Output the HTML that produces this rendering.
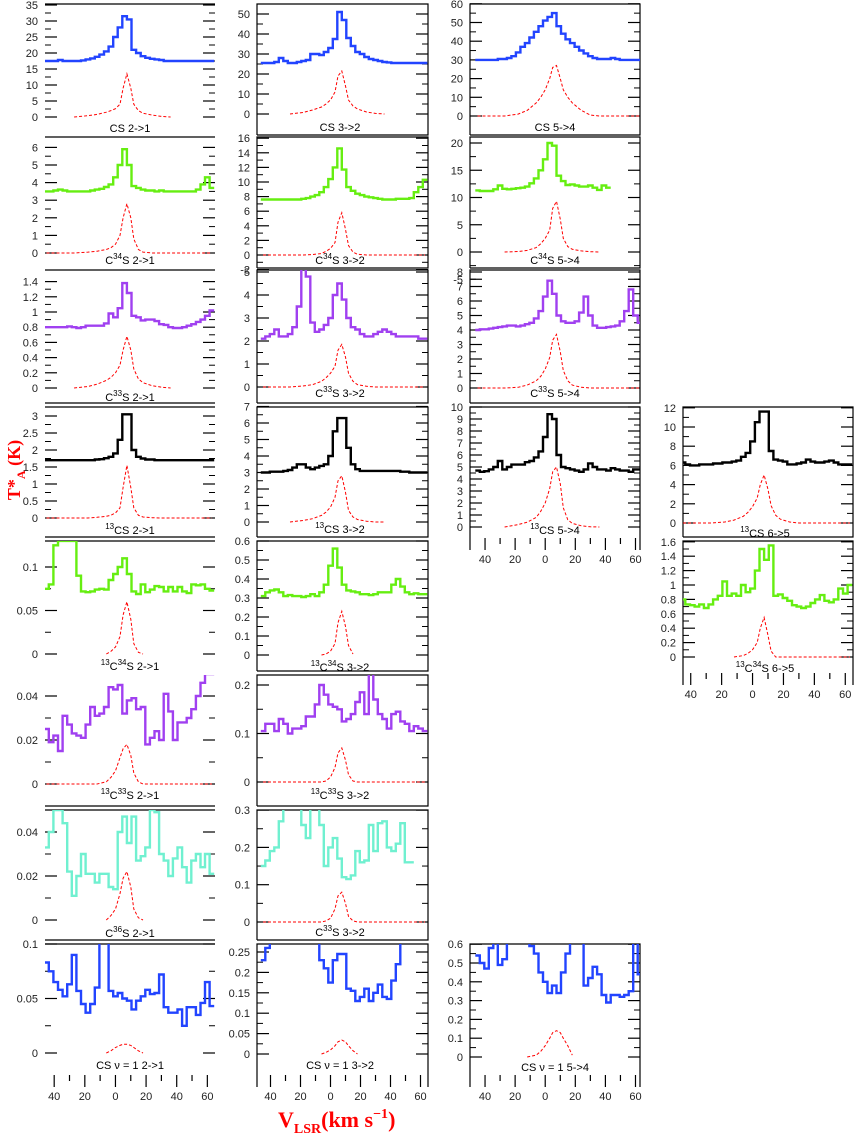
<!DOCTYPE html>
<html><head><meta charset="utf-8"><style>
html,body{margin:0;padding:0;background:#fff;}
svg{display:block;font-family:"Liberation Sans",sans-serif;}
</style></head><body>
<svg id="fig" width="854" height="1137" viewBox="0 0 854 1137" xmlns="http://www.w3.org/2000/svg">
<defs id="defs"></defs>
<g id="panels"></g>
<text transform="translate(20,470) rotate(-90)" text-anchor="middle" fill="#ff0000" font-family="Liberation Serif,serif" font-weight="bold" font-size="18">T*<tspan font-size="12" dy="5">A</tspan><tspan dy="-5"> (K)</tspan></text>
<text x="278" y="1127" fill="#ff0000" font-family="Liberation Serif,serif" font-weight="bold" font-size="22">V<tspan font-size="14" dy="6">LSR</tspan><tspan dy="-6">(km  s</tspan><tspan font-size="14" dy="-9">−1</tspan><tspan dy="9">)</tspan></text>
</svg>
<script>
const V = [-45,-42,-39,-36,-33,-30,-27,-24,-21,-18,-15,-12,-9,-6,-3,0,3,6,9,12,15,18,21,24,27,30,33,36,39,42,45,48,51,54,57,60,63];
const MV = [-45,-36,-27,-18,-12,-6,-3,0,3,5,7.5,10,12,15,18,24,30,36,45,54,63];
const n = null;
// column 1
const obsCS21 = [17.5,17.5,17.5,17.8,17.5,17.5,17.5,17.5,17.7,18,18.3,18.8,19.5,20.5,22,25,28,31.5,30.5,21,20,19,18.5,18.2,18,17.8,17.5,17.5,17.5,17.5,17.5,17.5,17.5,17.5,17.5,17.5,17.5];
const modCS21 = [n,n,0,0.4,0.8,1.5,2,2.6,4,9,13.5,9,4,2,1.2,0.6,0.2,0,n,n,n];
const obsC34S21 = [3.5,3.5,3.55,3.6,3.55,3.5,3.5,3.5,3.5,3.5,3.55,3.6,3.65,3.75,3.9,4.3,5.0,5.9,5.0,3.8,3.7,3.6,3.55,3.55,3.5,3.55,3.5,3.5,3.5,3.5,3.5,3.5,3.5,3.6,3.9,4.3,3.7];
const modC34S21 = [0,0,0,0.05,0.1,0.2,0.3,0.5,1.0,2.0,2.8,2.0,0.8,0.2,0.05,0,0,0,0,0,0];
const obsC33S21 = [0.8,0.8,0.8,0.8,0.8,0.81,0.8,0.79,0.8,0.82,0.82,0.82,0.82,0.85,0.98,0.93,1.05,1.38,1.25,0.95,0.93,0.89,0.9,0.9,0.88,0.84,0.83,0.8,0.79,0.79,0.8,0.82,0.84,0.87,0.9,0.95,1.02];
const modC33S21 = [n,n,0,0.02,0.05,0.1,0.14,0.2,0.3,0.5,0.68,0.5,0.25,0.12,0.07,0.03,0.01,0,n,n,n];
const obs13CS21 = [1.7,1.7,1.7,1.7,1.7,1.7,1.7,1.7,1.7,1.7,1.7,1.72,1.73,1.76,1.8,1.9,2.3,3.05,3.05,2.0,1.8,1.75,1.72,1.72,1.7,1.7,1.7,1.7,1.7,1.7,1.7,1.7,1.7,1.7,1.7,1.7,1.7];
const mod13CS21 = [0,0,0,0,0.02,0.05,0.08,0.15,0.3,0.9,1.55,0.9,0.3,0.08,0.03,0.01,0,0,0,0,0];
const obs13C34S21 = [0.075,0.08,0.125,0.13,0.13,0.13,0.13,0.09,0.072,0.071,0.072,0.074,0.075,0.074,0.085,0.092,0.1,0.11,0.092,0.072,0.069,0.08,0.071,0.074,0.078,0.077,0.072,0.077,0.072,0.077,0.072,0.07,0.08,0.079,0.08,0.075,0.073];
const mod13C34S21 = [n,n,n,n,n,0,0.003,0.008,0.02,0.045,0.06,0.04,0.012,0.002,0,n,n,n,n,n,n];
const obs13C33S21 = [0.025,0.019,0.022,0.015,0.031,0.027,0.023,0.022,0.021,0.027,0.035,0.031,0.032,0.035,0.044,0.043,0.045,0.032,0.038,0.039,0.034,0.035,0.018,0.021,0.024,0.02,0.041,0.033,0.02,0.028,0.028,0.03,0.034,0.04,0.046,0.05,0.05];
const mod13C33S21 = [0,0,0,0,0,0.001,0.003,0.006,0.012,0.016,0.018,0.013,0.005,0.001,0,0,0,0,0,0,0];
const obsC36S21 = [0.033,0.04,0.05,0.05,0.044,0.022,0.011,0.02,0.03,0.021,0.021,0.017,0.021,0.021,0.015,0.014,0.04,0.047,0.035,0.047,0.027,0.029,0.033,0.05,0.049,0.03,0.027,0.02,0.028,0.033,0.024,0.017,0.027,0.03,0.024,0.03,0.021];
const modC36S21 = [n,n,n,n,n,0,0.002,0.005,0.012,0.019,0.022,0.015,0.005,0.001,0,n,n,n,n,n,n];
const obsCSv21 = [0.083,0.075,0.065,0.058,0.052,0.063,0.09,0.057,0.045,0.037,0.045,0.06,0.11,0.11,0.057,0.052,0.055,0.05,0.048,0.04,0.048,0.052,0.058,0.054,0.055,0.072,0.042,0.037,0.037,0.04,0.025,0.042,0.042,0.035,0.046,0.065,0.043];
const modCSv21 = [n,n,n,n,n,0,0.002,0.005,0.007,0.008,0.008,0.007,0.005,0.002,0,n,n,n,n,n,n];
// column 2
const obsCS32 = [25.5,25.5,25.5,26,28,26.5,25.5,25.5,26,26.5,27,30,30,29.5,31,33,37.5,51,47,38,34,31,30,28.5,27.5,27,26.5,26,25.8,25.5,25.5,25.5,25.5,25.5,25.5,25.5,25.5];
const modCS32 = [n,n,0,0.8,2,3.5,5,7,11,19,21.5,14,7,4,2.5,1,0.3,0,n,n,n];
const obsC34S32 = [7.6,7.6,7.6,7.6,7.6,7.6,7.6,7.6,7.6,7.7,7.8,8,8.2,8.6,9.3,10.4,12,14.6,11.7,9.3,8.8,8.4,8.2,8,7.9,7.8,7.7,7.6,7.6,7.6,7.7,7.7,7.7,7.8,8.6,9.3,10.3];
const modC34S32 = [0,0,0,0,0.05,0.2,0.5,0.9,1.7,4.5,5.8,3.5,1.3,0.4,0.1,0,0,0,0,0,0];
const obsC33S32 = [2.1,2.2,2.3,2.5,2.2,2.2,2.3,2.6,3.5,5.3,4.8,2.8,2.4,2.5,2.7,3.0,4.0,4.5,3.8,3.0,2.6,2.5,2.3,2.2,2.2,2.3,2.4,2.5,2.4,2.3,2.2,2.2,2.2,2.2,2.2,2.1,2.1];
const modC33S32 = [0,0,0,0.05,0.1,0.25,0.4,0.6,0.9,1.6,1.85,1.3,0.6,0.25,0.1,0.03,0,0,0,0,0];
const obs13CS32 = [3.0,3.0,3.05,3.05,3.05,3.1,3.15,3.3,3.5,3.5,3.3,3.2,3.3,3.4,3.5,4.0,5.5,6.3,6.3,4.5,3.5,3.2,3.1,3.1,3.1,3.1,3.1,3.1,3.1,3.1,3.1,3.05,3.05,3.0,3.0,3.0,3.0];
const mod13CS32 = [n,n,0,0.1,0.2,0.4,0.6,0.9,1.5,2.5,2.8,1.8,0.7,0.3,0.15,0.05,0,0,n,n,n];
const obs13C34S32 = [0.31,0.33,0.34,0.345,0.33,0.31,0.315,0.31,0.31,0.305,0.31,0.32,0.31,0.33,0.37,0.47,0.56,0.46,0.37,0.34,0.335,0.33,0.32,0.32,0.315,0.32,0.33,0.33,0.33,0.37,0.4,0.36,0.33,0.32,0.325,0.32,0.32];
const mod13C34S32 = [n,n,n,n,n,0,0.005,0.02,0.06,0.17,0.23,0.15,0.05,0.005,n,n,n,n,n,n,n];
const obs13C33S32 = [0.105,0.12,0.12,0.105,0.13,0.12,0.1,0.11,0.11,0.115,0.135,0.135,0.16,0.2,0.18,0.16,0.155,0.15,0.125,0.13,0.14,0.165,0.185,0.14,0.23,0.17,0.14,0.13,0.11,0.14,0.145,0.125,0.12,0.105,0.115,0.11,0.105];
const mod13C33S32 = [0,0,0,0,0,0,0.002,0.01,0.03,0.06,0.07,0.045,0.015,0.002,0,0,0,0,0,0,0];
const obsC36S32 = [0.15,0.165,0.19,0.2,0.27,0.31,0.31,0.31,0.31,0.26,0.225,0.31,0.31,0.26,0.15,0.2,0.225,0.17,0.12,0.115,0.125,0.19,0.16,0.165,0.26,0.19,0.265,0.27,0.2,0.19,0.21,0.265,0.16,0.16,n,n,n];
const modC36S32 = [0,0,0,0,0,0,0.003,0.01,0.035,0.07,0.08,0.05,0.015,0.003,0,0,0,0,0,0,0];
const obsCSv32 = [0.23,0.26,0.3,0.3,0.3,0.3,0.3,0.3,0.3,0.3,0.3,0.3,0.3,0.23,0.21,0.175,0.23,0.245,0.245,0.16,0.155,0.13,0.14,0.16,0.13,0.15,0.17,0.14,0.135,0.18,0.22,0.3,0.3,0.3,0.3,0.3,0.3];
const modCSv32 = [n,n,n,n,n,0,0.004,0.01,0.02,0.03,0.034,0.03,0.02,0.008,0,n,n,n,n,n,n];
// column 3
const obsCS54 = [30,30,30,30,30,30.5,30.5,31,32,34,37,39,42,45,48,51,53,55,48,44,41,39,37,35,33.5,32,31,30.5,30.5,30.5,31,30.5,30,30,30,30,30];
const modCS54 = [0,0,0,1,3,7,10,14,20,26,27,20,14,10,7,3,0.5,0,0,0,0];
const obsC34S54 = [11.3,11.2,11.2,11.2,11.5,12.2,11.6,11.5,11.6,11.7,11.8,12,12.6,13.5,15,17,20,19.5,14,13,12.3,12.4,12.2,12,12,12.2,11.8,11.4,12.2,11.8,n,n,n,n,n,n,n];
const modC34S54 = [n,n,0,0.1,0.3,0.8,1.5,2.5,4,8,9.3,6,2.5,1,0.5,0.2,0.05,0,n,n,n];
const obsC33S54 = [4.0,4.05,4.05,4.1,4.15,4.2,4.25,4.3,4.3,4.25,4.3,4.4,4.5,4.8,5.3,6.3,7.4,6.5,5.0,4.6,4.5,4.5,4.6,5.2,6.3,5.0,4.3,4.15,4.15,4.2,4.25,4.3,4.6,5.3,6.8,5.0,4.5];
const modC33S54 = [0,0,0,0.05,0.2,0.5,0.8,1.3,2.1,3.3,3.7,2.5,1.2,0.5,0.2,0.05,0,0,0,0,0];
const obs13CS54 = [4.7,4.6,4.65,4.8,5.0,5.5,4.8,5.0,5.2,5.2,5.2,5.4,5.5,5.8,6.3,7.5,9.4,9.0,6.0,5.0,4.9,4.8,4.7,4.6,4.8,5.3,5.0,4.8,4.8,4.7,4.9,4.8,4.7,4.7,4.6,4.8,4.8];
const mod13CS54 = [n,n,0,0.2,0.4,0.8,1.3,2,3.2,4.6,5,3.6,1.6,0.6,0.3,0.1,0.02,0,n,n,n];
const obsCSv54 = [0.54,0.5,0.47,0.58,0.62,0.49,0.52,0.62,0.62,0.62,0.62,0.62,0.59,0.55,0.45,0.4,0.34,0.38,0.34,0.45,0.55,0.62,0.62,0.62,0.38,0.42,0.48,0.44,0.33,0.29,0.33,0.33,0.32,0.33,0.35,0.62,0.44];
const modCSv54 = [n,n,n,n,0,0.01,0.03,0.06,0.1,0.13,0.14,0.13,0.1,0.06,0.01,n,n,n,n,n,n];
// column 4
const obs13CS65 = [6.3,6.1,6.0,6.0,6.1,6.1,6.1,6.2,6.2,6.3,6.3,6.4,6.5,6.9,7.3,8.5,10.5,11.6,11.6,7.5,6.6,6.5,6.4,6.1,6.1,6.2,6.3,6.6,6.4,6.3,6.3,6.4,6.5,6.3,6.1,6.1,6.1];
const mod13CS65 = [0,0,0,0.1,0.3,0.7,1.1,1.7,2.6,4,5,3.5,1.8,0.8,0.4,0.1,0,0,0,0,0];
const obs13C34S65 = [0.8,0.73,0.72,0.7,0.73,0.68,0.73,0.8,0.85,1.05,0.85,0.88,0.85,1.0,0.9,0.95,1.2,1.5,1.35,1.55,0.85,0.87,0.82,0.78,0.72,0.7,0.68,0.7,0.75,0.8,0.86,0.78,0.76,0.8,0.95,0.88,1.0];
const mod13C34S65 = [n,n,n,n,0,0.02,0.05,0.1,0.2,0.4,0.55,0.3,0.08,0,0,0,0,0,0,0,0];

const cols = {
  1:{x0:45,x1:215,vmin:-46,vmax:65,lx:38,cx:130},
  2:{x0:257,x1:428,vmin:-49,vmax:65,lx:250,cx:340},
  3:{x0:470,x1:640,vmin:-50,vmax:63,lx:463,cx:555},
  4:{x0:683,x1:853,vmin:-45,vmax:65,lx:676,cx:765}
};
const BLUE='#2244ff',GREEN='#66ee11',PURPLE='#a040f0',BLACK='#000',CYAN='#70f0d0';
function iso(a,b){return '<tspan font-size="8" dy="-5">'+a+'</tspan><tspan dy="5">'+b+'</tspan>';}
function sup(a){return '<tspan font-size="8" dy="-5">'+a+'</tspan><tspan dy="5">';}
const L = {
 cs:(t)=>'CS '+t,
 c34:(t)=>'C'+sup('34')+'S '+t+'</tspan>',
 c33:(t)=>'C'+sup('33')+'S '+t+'</tspan>',
 c36:(t)=>'C'+sup('36')+'S '+t+'</tspan>',
 c13:(t)=>sup('13')+'CS '+t+'</tspan>',
 c1334:(t)=>sup('13')+'C'+'</tspan>'+sup('34')+'S '+t+'</tspan>',
 c1333:(t)=>sup('13')+'C'+'</tspan>'+sup('33')+'S '+t+'</tspan>',
 v1:(t)=>'CS  ν = 1 '+t
};
const panels = [
 {name:'cs-2-1',col:1,top:4,bot:135,z:117,s:3.2,ticks:[0,5,10,15,20,25,30,35],c:BLUE,o:obsCS21,m:modCS21,lab:L.cs('2->1'),ly:132},
 {name:'c34s-2-1',col:1,top:137,bot:268,z:253,s:17.6,ticks:[0,1,2,3,4,5,6],c:GREEN,o:obsC34S21,m:modC34S21,lab:L.c34('2->1'),ly:264},
 {name:'c33s-2-1',col:1,top:270,bot:403,z:388,s:76,ticks:[0,0.2,0.4,0.6,0.8,1,1.2,1.4],c:PURPLE,o:obsC33S21,m:modC33S21,lab:L.c33('2->1'),ly:401},
 {name:'13cs-2-1',col:1,top:407,bot:537,z:518,s:34,ticks:[0,0.5,1,1.5,2,2.5,3],c:BLACK,o:obs13CS21,m:mod13CS21,lab:L.c13('2->1'),ly:534},
 {name:'13c34s-2-1',col:1,top:541,bot:672,z:654,s:870,ticks:[0,0.05,0.1],c:GREEN,o:obs13C34S21,m:mod13C34S21,lab:L.c1334('2->1'),ly:670},
 {name:'13c33s-2-1',col:1,top:675,bot:806,z:784,s:2200,ticks:[0,0.02,0.04],c:PURPLE,o:obs13C33S21,m:mod13C33S21,lab:L.c1333('2->1'),ly:799},
 {name:'c36s-2-1',col:1,top:810,bot:940,z:920,s:2200,ticks:[0,0.02,0.04],c:CYAN,o:obsC36S21,m:modC36S21,lab:L.c36('2->1'),ly:937},
 {name:'cs-v1-2-1',col:1,top:944,bot:1074,z:1053,s:1090,ticks:[0,0.05,0.1],c:BLUE,o:obsCSv21,m:modCSv21,lab:L.v1('2->1'),ly:1069,axis:1},
 {name:'cs-3-2',col:2,top:4,bot:135,z:114,s:2,ticks:[0,10,20,30,40,50],c:BLUE,o:obsCS32,m:modCS32,lab:L.cs('3->2'),ly:131},
 {name:'c34s-3-2',col:2,top:137,bot:268,z:255,s:7.3,ticks:[-2,0,2,4,6,8,10,12,14,16],c:GREEN,o:obsC34S32,m:modC34S32,lab:L.c34('3->2'),ly:264},
 {name:'c33s-3-2',col:2,top:270,bot:403,z:387,s:23,ticks:[0,1,2,3,4,5],c:PURPLE,o:obsC33S32,m:modC33S32,lab:L.c33('3->2'),ly:397},
 {name:'13cs-3-2',col:2,top:407,bot:537,z:522,s:16.5,ticks:[0,1,2,3,4,5,6,7],c:BLACK,o:obs13CS32,m:mod13CS32,lab:L.c13('3->2'),ly:533},
 {name:'13c34s-3-2',col:2,top:541,bot:671,z:655,s:190,ticks:[0,0.1,0.2,0.3,0.4,0.5,0.6],c:GREEN,o:obs13C34S32,m:mod13C34S32,lab:L.c1334('3->2'),ly:671},
 {name:'13c33s-3-2',col:2,top:675,bot:806,z:782,s:485,ticks:[0,0.1,0.2],c:PURPLE,o:obs13C33S32,m:mod13C33S32,lab:L.c1333('3->2'),ly:799},
 {name:'c33s-3-2-b',col:2,top:810,bot:940,z:922,s:373,ticks:[0,0.1,0.2,0.3],c:CYAN,o:obsC36S32,m:modC36S32,lab:L.c33('3->2'),ly:936},
 {name:'cs-v1-3-2',col:2,top:944,bot:1074,z:1054,s:408,ticks:[0,0.05,0.1,0.15,0.2,0.25],c:BLUE,o:obsCSv32,m:modCSv32,lab:L.v1('3->2'),ly:1069,axis:1},
 {name:'cs-5-4',col:3,top:4,bot:135,z:116,s:1.87,ticks:[0,10,20,30,40,50,60],c:BLUE,o:obsCS54,m:modCS54,lab:L.cs('5->4'),ly:131},
 {name:'c34s-5-4',col:3,top:137,bot:268,z:252,s:5.45,ticks:[-5,0,5,10,15,20],c:GREEN,o:obsC34S54,m:modC34S54,lab:L.c34('5->4'),ly:264},
 {name:'c33s-5-4',col:3,top:270,bot:403,z:388,s:14.5,ticks:[0,1,2,3,4,5,6,7,8],c:PURPLE,o:obsC33S54,m:modC33S54,lab:L.c33('5->4'),ly:397},
 {name:'13cs-5-4',col:3,top:407,bot:537,z:527,s:12,ticks:[0,1,2,3,4,5,6,7,8,9,10],c:BLACK,o:obs13CS54,m:mod13CS54,lab:L.c13('5->4'),ly:534,axis:1},
 {name:'cs-v1-5-4',col:3,top:944,bot:1074,z:1057,s:188,ticks:[0,0.1,0.2,0.3,0.4,0.5,0.6],c:BLUE,o:obsCSv54,m:modCSv54,lab:L.v1('5->4'),ly:1071,axis:1},
 {name:'13cs-6-5',col:4,top:407,bot:537,z:523,s:9.6,ticks:[0,2,4,6,8,10,12],c:BLACK,o:obs13CS65,m:mod13CS65,lab:L.c13('6->5'),ly:537},
 {name:'13c34s-6-5',col:4,top:541,bot:672,z:657,s:72,ticks:[0,0.2,0.4,0.6,0.8,1,1.2,1.4,1.6],c:GREEN,o:obs13C34S65,m:mod13C34S65,lab:L.c1334('6->5'),ly:672,axis:1}
];
const NS='http://www.w3.org/2000/svg';
const root=document.getElementById('panels');
const defs=document.getElementById('defs');
function mk(tag,attrs,parent){const e=document.createElementNS(NS,tag);for(const k in attrs)e.setAttribute(k,attrs[k]);parent.appendChild(e);return e;}
// col1 horizontal separators
[4,137,270,403,407,537,541,806,810,940,944].forEach(y=>{
  const l=mk('line',{x1:45,x2:215,y1:y,y2:y,stroke:'#000','stroke-width':1.2},root);
  
  
});
panels.forEach((p,pi)=>{
  const C=cols[p.col];
  const xs=v=>C.x0+(v-C.vmin)/(C.vmax-C.vmin)*(C.x1-C.x0);
  const ys=t=>p.z-t*p.s;
  const g=mk('g',{},root);
  
  
  const cp=mk('clipPath',{id:'cp'+pi},defs);
  mk('rect',{x:C.x0,y:p.top,width:C.x1-C.x0,height:p.bot-p.top},cp);
  const ext=p.axis?p.bot+13:p.bot;
  if(p.col!==1){
    const fr=mk('path',{d:'M'+C.x0+','+ext+'V'+p.top+'H'+C.x1+'V'+ext+(p.axis?'':'H'+C.x0),fill:'none',stroke:'#000','stroke-width':1.2},g);
    
    
  }
  // y ticks
  p.ticks.forEach((t,i)=>{
    const y=ys(t);
    mk('line',{x1:C.x0,x2:C.x0+12,y1:y,y2:y,stroke:'#000','stroke-width':1.2},g);
    mk('line',{x1:C.x1-12,x2:C.x1,y1:y,y2:y,stroke:'#000','stroke-width':1.2},g);
    if(i<p.ticks.length-1){const ym=ys((t+p.ticks[i+1])/2);
      mk('line',{x1:C.x0,x2:C.x0+6,y1:ym,y2:ym,stroke:'#000'},g);
      mk('line',{x1:C.x1-6,x2:C.x1,y1:ym,y2:ym,stroke:'#000'},g);}
    const tl=mk('text',{x:C.lx,y:y+4,'text-anchor':'end','font-size':11,fill:'#222'},g);
    tl.textContent=String(t);
    
    
  });
  // x axis
  if(p.axis){
    for(let v=-40;v<=60;v+=10){
      const x=xs(v);
      mk('line',{x1:x,x2:x,y1:p.bot+1,y2:p.bot+(v%20===0?13:7),stroke:'#000','stroke-width':1.2},g);
      if(v%20===0){
        const xl=mk('text',{x:x,y:p.bot+26,'text-anchor':'middle','font-size':11,fill:'#222'},g);
        xl.textContent=String(Math.abs(v));
        
        
      }
    }
  }
  // observed spectrum (step)
  let d='',prev=null;
  V.forEach((v,i)=>{
    const t=p.o[i];
    if(t===null){prev=null;return;}
    const y=ys(t).toFixed(1);
    if(prev===null)d+='M'+xs(v-1.5).toFixed(1)+','+y;else d+='V'+y;
    d+='H'+xs(v+1.5).toFixed(1);
    prev=t;
  });
  const ob=mk('path',{d:d,fill:'none',stroke:p.c,'stroke-width':2.4,'clip-path':'url(#cp'+pi+')'},g);
  
  
  // model
  let md='',open=false;
  MV.forEach((v,i)=>{
    const t=p.m[i];
    if(t===null){open=false;return;}
    md+=(open?'L':'M')+xs(v).toFixed(1)+','+ys(t).toFixed(1);open=true;
  });
  const mo=mk('path',{d:md,fill:'none',stroke:'#ff0000','stroke-width':1,'stroke-dasharray':'3,2','clip-path':'url(#cp'+pi+')'},g);
  
  
  const lb=mk('text',{x:C.cx,y:p.ly,'text-anchor':'middle','font-size':11,fill:'#000'},g);
  lb.innerHTML=p.lab;
  
  
});
</script>
</body></html>
